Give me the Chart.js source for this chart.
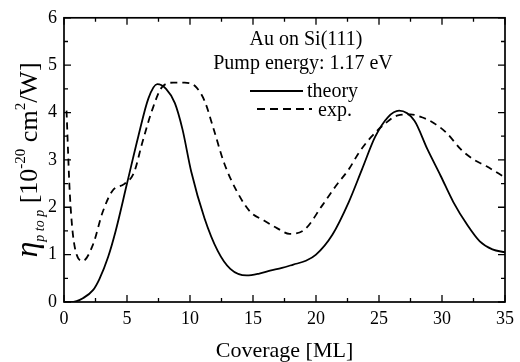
<!DOCTYPE html>
<html><head><meta charset="utf-8">
<script src="https://cdn.jsdelivr.net/npm/chart.js@4/dist/chart.umd.min.js"></script>
<style>html,body{margin:0;padding:0;background:#fff}#wrap{width:520px;height:362px}</style>
</head><body><div id="wrap"><canvas id="c" width="520" height="362"></canvas></div>
<script>
// ---- data ----
const theoryX = [0, 0.5, 1.0, 1.5, 2.3, 2.8, 3.5, 4.1, 5.0, 5.9, 6.7, 7.4, 8.1, 8.8, 9.4, 10.1, 11.15, 12.2, 13.2, 14.5, 15.5, 16.35, 17.3, 18.2, 19.2, 20.0, 21.3, 22.6, 23.65, 24.7, 25.7, 26.6, 27.8, 28.85, 29.9, 30.9, 32.0, 33.0, 34.0, 35.0];
const theoryY = [0, 0, 0.02, 0.08, 0.25, 0.48, 0.95, 1.5, 2.5, 3.5, 4.3, 4.6, 4.5, 4.2, 3.65, 2.75, 1.77, 1.08, 0.7, 0.56, 0.6, 0.66, 0.72, 0.79, 0.87, 1.0, 1.42, 2.11, 2.8, 3.49, 3.9, 4.04, 3.83, 3.22, 2.66, 2.11, 1.63, 1.28, 1.11, 1.05];
const expX = [0.2, 0.47, 0.86, 1.5, 2.3, 3.07, 3.85, 4.77, 5.55, 6.2, 6.98, 7.76, 8.67, 9.58, 10.4, 11.15, 11.9, 12.7, 13.75, 14.8, 15.8, 16.9, 17.9, 19.1, 20.5, 21.6, 22.6, 23.4, 24.4, 25.5, 26.5, 27.5, 28.4, 29.4, 30.4, 31.5, 32.5, 33.5, 35.0];
const expY = [4.04, 2.25, 1.15, 0.87, 1.21, 1.9, 2.35, 2.49, 2.73, 3.35, 4.04, 4.53, 4.63, 4.63, 4.56, 4.25, 3.63, 2.94, 2.32, 1.9, 1.73, 1.56, 1.44, 1.53, 2.04, 2.46, 2.8, 3.15, 3.49, 3.77, 3.94, 3.96, 3.9, 3.77, 3.56, 3.22, 3.01, 2.87, 2.63];
const xRange = [0, 35];
const yRange = [0, 6];
const legendTitle = ['Au on Si(111)', 'Pump energy: 1.17 eV'];
const seriesNames = ['theory', 'exp.'];
const xTitle = 'Coverage [ML]';
const yTitleRuns = [
  {t: 'η', style: 'italic ', size: 32, shift: 0},
  {t: 'p to p', style: 'italic ', size: 14, shift: 7},
  {t: ' [10', style: '', size: 26, shift: 0},
  {t: '-20', style: '', size: 15, shift: -12},
  {t: ' cm', style: '', size: 26, shift: 0},
  {t: '2', style: '', size: 15, shift: -12},
  {t: '/W]', style: '', size: 26, shift: 0}
];

const FONT = 'Liberation Serif';

const decor = {
  id: 'decor',
  afterDraw(chart) {
    const ctx = chart.ctx, a = chart.chartArea;
    const xs = chart.scales.x, ys = chart.scales.y;
    ctx.save();
    ctx.strokeStyle = '#000';
    ctx.lineWidth = 1.7;
    ctx.strokeRect(a.left, a.top, a.right - a.left, a.bottom - a.top);
    ctx.lineWidth = 1.3;
    ctx.beginPath();
    for (let v = xRange[0]; v <= xRange[1] + 1e-9; v += 2.5) {
      const px = xs.getPixelForValue(v);
      const L = (Math.abs(v % 5) < 1e-9) ? 7 : 4;
      ctx.moveTo(px, a.bottom); ctx.lineTo(px, a.bottom - L);
      ctx.moveTo(px, a.top); ctx.lineTo(px, a.top + L);
    }
    for (let v = yRange[0]; v <= yRange[1] + 1e-9; v += 0.5) {
      const py = ys.getPixelForValue(v);
      const L = (Math.abs(v % 1) < 1e-9) ? 7 : 4;
      ctx.moveTo(a.left, py); ctx.lineTo(a.left + L, py);
      ctx.moveTo(a.right, py); ctx.lineTo(a.right - L, py);
    }
    ctx.stroke();

    // legend block
    ctx.fillStyle = '#000';
    ctx.font = '20px "' + FONT + '"';
    ctx.textAlign = 'center';
    ctx.textBaseline = 'alphabetic';
    ctx.fillText(legendTitle[0], 306, 45);
    ctx.fillText(legendTitle[1], 303, 69);
    ctx.textAlign = 'left';
    ctx.lineWidth = 1.8;
    ctx.beginPath(); ctx.moveTo(250, 91); ctx.lineTo(303, 91); ctx.stroke();
    ctx.fillText(seriesNames[0], 307, 97);
    ctx.setLineDash([8, 5]);
    ctx.beginPath(); ctx.moveTo(257, 109); ctx.lineTo(312, 109); ctx.stroke();
    ctx.setLineDash([]);
    ctx.fillText(seriesNames[1], 318, 116);

    // y axis title (rotated, with sub/superscripts)
    let total = 0;
    yTitleRuns.forEach(r => { ctx.font = r.style + r.size + 'px "' + FONT + '"'; r.w = ctx.measureText(r.t).width; total += r.w; });
    ctx.translate(37, 160);
    ctx.rotate(-Math.PI / 2);
    let x = -total / 2;
    yTitleRuns.forEach(r => {
      ctx.font = r.style + r.size + 'px "' + FONT + '"';
      ctx.fillText(r.t, x, r.shift);
      x += r.w;
    });
    ctx.restore();
  }
};

new Chart(document.getElementById('c'), {
  type: 'line',
  data: {
    datasets: [
      {label: seriesNames[0], data: theoryX.map((x, i) => ({x, y: theoryY[i]})), borderColor: '#000', borderWidth: 1.8, pointRadius: 0, cubicInterpolationMode: 'monotone', fill: false},
      {label: seriesNames[1], data: expX.map((x, i) => ({x, y: expY[i]})), borderColor: '#000', borderWidth: 1.8, borderDash: [7, 5], pointRadius: 0, cubicInterpolationMode: 'monotone', fill: false}
    ]
  },
  options: {
    responsive: false,
    animation: false,
    devicePixelRatio: 1,
    layout: {padding: {top: 12, right: 8, left: 0, bottom: 0}},
    plugins: {legend: {display: false}, tooltip: {enabled: false}},
    scales: {
      x: {
        type: 'linear', min: xRange[0], max: xRange[1],
        grid: {display: false, drawTicks: false}, border: {display: false},
        ticks: {stepSize: 5, color: '#000', font: {family: FONT, size: 18}, padding: 6, maxRotation: 0},
        title: {display: true, text: xTitle, color: '#000', font: {family: FONT, size: 22, lineHeight: 1}, padding: {top: 0, bottom: 0}},
        afterFit(s) { s.height = 60; }
      },
      y: {
        type: 'linear', min: yRange[0], max: yRange[1],
        grid: {display: false, drawTicks: false}, border: {display: false},
        ticks: {stepSize: 1, color: '#000', font: {family: FONT, size: 18}, padding: 7},
        afterFit(s) { s.width = 64; }
      }
    }
  },
  plugins: [decor]
});
</script>
</body></html>
